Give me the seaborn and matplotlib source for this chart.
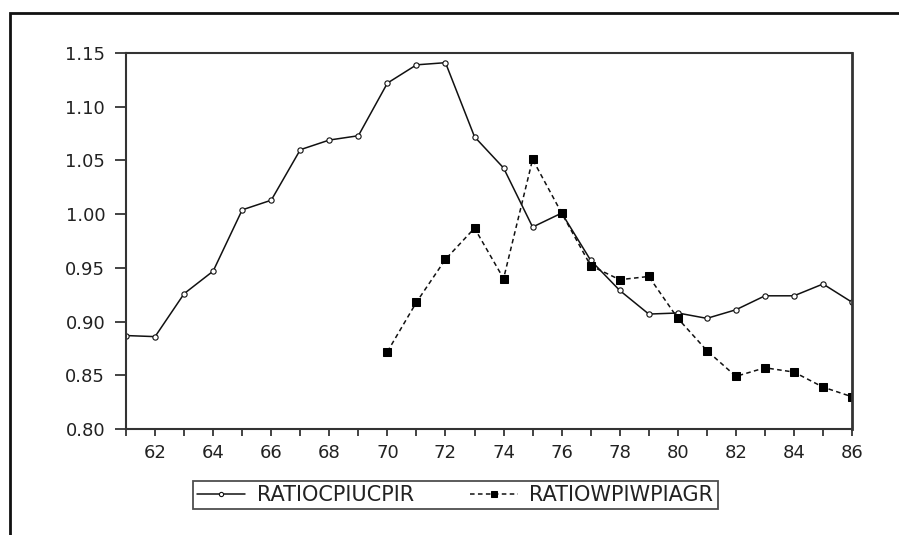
# Dependencies
import matplotlib
matplotlib.use('Agg')
import matplotlib.pyplot as plt
from matplotlib.ticker import MultipleLocator, FormatStrFormatter
import seaborn as sns

# Data
years_cpi = [61, 62, 63, 64, 65, 66, 67, 68, 69, 70, 71, 72, 73,
             74, 75, 76, 77, 78, 79, 80, 81, 82, 83, 84, 85, 86]
ratio_cpi = [0.887, 0.886, 0.926, 0.947, 1.004, 1.013, 1.060, 1.069, 1.073,
             1.122, 1.139, 1.141, 1.072, 1.043, 0.988, 1.001, 0.957, 0.929,
             0.907, 0.908, 0.903, 0.911, 0.924, 0.924, 0.935, 0.918]

years_wpi = [70, 71, 72, 73, 74, 75, 76, 77, 78, 79, 80, 81, 82, 83, 84, 85, 86]
ratio_wpi = [0.872, 0.918, 0.958, 0.987, 0.940, 1.051, 1.001, 0.952, 0.939,
             0.942, 0.903, 0.873, 0.849, 0.857, 0.853, 0.839, 0.830]

label_cpi = "RATIOCPIUCPIR"
label_wpi = "RATIOWPIWPIAGR"

# Style
sns.set_style("white")
plt.rcParams['font.family'] = ['DejaVu Sans']

fig = plt.figure(figsize=(8.99, 5.35), dpi=100)
ax = fig.add_axes([0.1402, 0.1981, 0.8076, 0.7028])

# lines
sns.lineplot(x=years_cpi, y=ratio_cpi, ax=ax, color="#111111", lw=1.1,
             marker="o", markersize=3.8, markerfacecolor="white",
             markeredgecolor="#111111", markeredgewidth=0.8, label=label_cpi)
sns.lineplot(x=years_wpi, y=ratio_wpi, ax=ax, color="#111111", lw=1.1,
             linestyle=(0, (3.0, 2.2)), marker="s", markersize=6.0,
             markerfacecolor="black", markeredgecolor="black", label=label_wpi)

# axes limits / ticks
ax.set_xlim(61, 86)
ax.set_ylim(0.80, 1.15)
ax.yaxis.set_major_locator(MultipleLocator(0.05))
ax.yaxis.set_major_formatter(FormatStrFormatter('%.2f'))
ax.xaxis.set_major_locator(MultipleLocator(2))
ax.xaxis.set_minor_locator(MultipleLocator(1))
ax.xaxis.set_major_formatter(FormatStrFormatter('%d'))

ax.tick_params(axis='y', which='major', direction='out', length=8, width=1.2,
               color='#222222', labelsize=13, labelcolor='#222222', pad=7, left=True)
ax.tick_params(axis='x', which='both', direction='out', length=5, width=1.2,
               color='#222222', labelsize=13, labelcolor='#222222', pad=6, bottom=True)

for side in ['top', 'bottom', 'left', 'right']:
    ax.spines[side].set_visible(True)
    ax.spines[side].set_color('#333333')
    ax.spines[side].set_linewidth(1.5)
ax.spines['right'].set_linewidth(2.0)

ax.set_xlabel("")
ax.set_ylabel("")

# legend below the axes
leg = ax.legend(loc='center left', bbox_to_anchor=(0.0923, -0.1755),
                ncol=2, fontsize=15, frameon=True, fancybox=False,
                shadow=False, handlelength=2.3, handletextpad=0.55,
                columnspacing=2.7, borderpad=0.2, borderaxespad=0,
                markerscale=0.8)
leg.get_frame().set_edgecolor('#222222')
leg.get_frame().set_linewidth(1.3)
for t in leg.get_texts():
    t.set_color('#222222')

# outer frame (partially outside the picture)
frame = plt.Rectangle((10 / 899, -0.2), 1.2, 0.2 + 1 - 13 / 535,
                      transform=fig.transFigure, fill=False,
                      edgecolor='#111111', linewidth=2.0, clip_on=False)
fig.add_artist(frame)

fig.savefig("out.png", dpi=100)
plt.close("all")
